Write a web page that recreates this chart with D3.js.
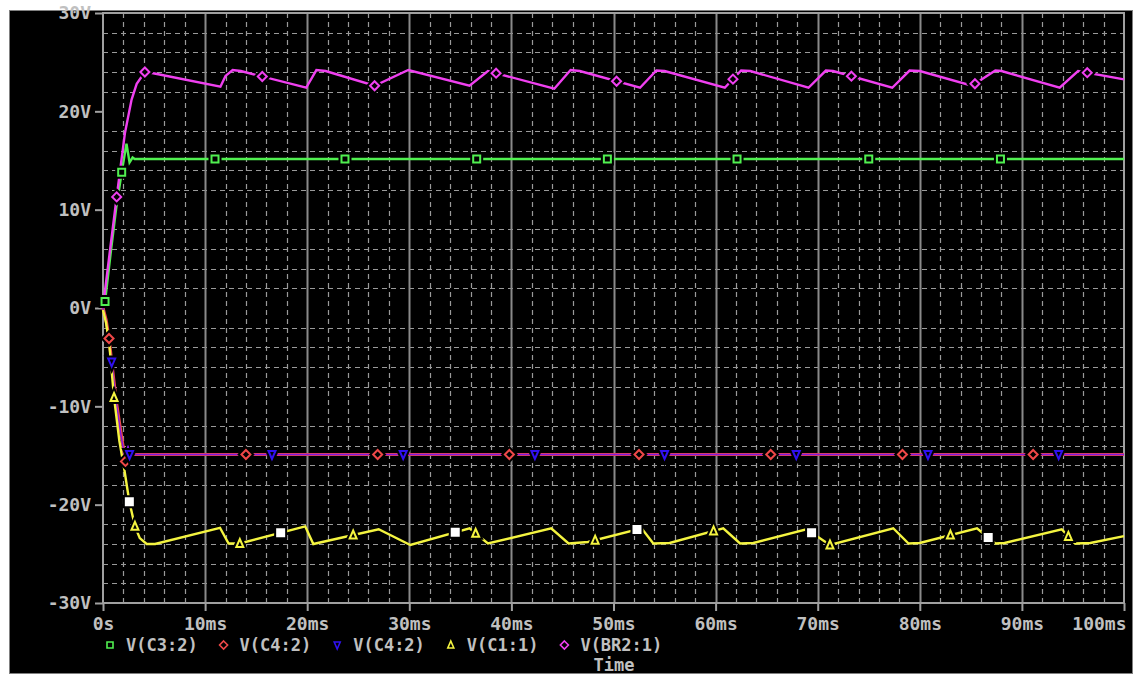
<!DOCTYPE html>
<html><head><meta charset="utf-8">
<script src="https://cdn.jsdelivr.net/npm/d3@7"></script>
<style>
html,body{margin:0;padding:0;background:#fff;}
svg{display:block;}
text{font-family:"DejaVu Sans Mono",monospace;font-weight:bold;}
</style></head>
<body><svg id="c" width="1139" height="675"></svg>
<script>
// ---- data (time in ms, value in V) ----
const xTicks = [0,10,20,30,40,50,60,70,80,90,100];
const xTickLabels = ["0s","10ms","20ms","30ms","40ms","50ms","60ms","70ms","80ms","90ms","100ms"];
const yTicks = [-30,-20,-10,0,10,20,30];
const yTickLabels = ["-30V","-20V","-10V","0V","10V","20V","30V"];
const seriesNames = ["V(C3:2)","V(C4:2)","V(C4:2)","V(C1:1)","V(BR2:1)"];
const xTitle = "Time";

const vC3 = [[0,0],[0.2,0.65],[0.8,6.0],[1.3,10.2],[1.83,13.8],[2.3,16.7],[2.6,14.8],[2.9,15.3],[3.1,15.15],[100,15.15]];
const vC4red = [[0,0],[0.3,-1.2],[0.59,-3.1],[0.85,-5.5],[1.3,-9.5],[1.8,-13],[2.2,-15.6],[2.4,-15.2],[2.6,-14.9],[100,-14.9]];
const vC4blue = [[0,0],[0.3,-1.3],[0.85,-5.5],[1.3,-9.6],[1.8,-13.2],[2.2,-15.5],[2.45,-14.0],[2.6,-14.9],[100,-14.9]];
const vC1 = [[0,-0.2],[0.3,-1.5],[0.6,-3.5],[1.08,-9.1],[1.6,-13.5],[2.1,-16.5],[2.58,-19.7],[3.13,-22.2],[3.6,-23.4],[4.28,-24.0],[5.1,-24.0],[11.46,-22.35],[12.3,-23.95],[13.4,-23.95],[19.8,-22.2],[20.6,-24.0],[27.0,-22.5],[30.1,-24.1],[35.9,-22.4],[37.7,-23.95],[43.9,-22.4],[45.6,-23.95],[47.5,-23.8],[52.75,-22.4],[53.9,-23.95],[55.5,-23.9],[60.75,-22.4],[62.4,-23.95],[63.7,-23.9],[68.9,-22.5],[71.2,-24.1],[77.4,-22.4],[78.9,-23.95],[80.0,-23.9],[85.6,-22.4],[87.4,-23.95],[88.3,-23.9],[93.9,-22.5],[95.2,-23.95],[96.7,-23.9],[100,-23.2]];
const vBR2 = [[0,0],[0.2,1.8],[0.69,5.9],[1.34,11.3],[2.15,17.8],[2.8,21.2],[3.3,22.8],[4.1,24.0],[4.8,23.9],[11.5,22.5],[12.0,23.6],[12.7,24.2],[13.5,24.1],[19.9,22.4],[20.9,24.2],[21.8,24.1],[26.6,22.6],[29.9,24.2],[35.9,22.6],[37.7,24.1],[44.2,22.3],[45.8,24.2],[46.7,24.1],[52.6,22.4],[54.2,24.15],[55.0,24.1],[60.9,22.4],[62.5,24.15],[63.4,24.1],[69.1,22.4],[70.8,24.15],[71.5,24.1],[77.3,22.4],[79.0,24.15],[80.0,24.1],[85.1,22.6],[87.4,24.15],[88.0,24.1],[93.7,22.4],[95.5,24.1],[100,23.25]];

// marker times (ms) on each trace
const mkC3 = [0.2,1.83,10.97,23.7,36.6,49.4,62.1,75.0,87.9];
const mkC4red = [0.59,2.2,14.0,26.9,39.8,52.5,65.4,78.3,91.1];
const mkC4blue = [0.85,2.6,16.55,29.4,42.3,55.0,67.9,80.8,93.6];
const mkC1 = [1.08,3.13,13.4,24.5,36.5,48.2,59.8,71.2,83.0,94.55];
const mkBR2 = [1.34,4.1,15.6,26.6,38.5,50.3,61.7,73.3,85.4,96.4];
const mkWhite = [2.58,17.4,34.5,52.3,69.4,86.7];

// ---- drawing ----
const svg = d3.select("#c");
const x = d3.scaleLinear().domain([0,100]).range([103,1124]);
const y = d3.scaleLinear().domain([-30,30]).range([603,13]);
const grey = "#c0c0c0", gridc = "#9a9a9a";

svg.append("rect").attr("x",9.5).attr("y",10.5).attr("width",1123).attr("height",663)
  .attr("fill","#000").attr("stroke","#808080");

const g = svg.append("g");
const hv = d3.range(-28,30,2).filter(v=>v%10!==0);
g.selectAll(".hg").data(hv).join("line")
  .attr("x1",x(0)).attr("x2",x(100)).attr("y1",d=>Math.round(y(d))+0.5).attr("y2",d=>Math.round(y(d))+0.5)
  .attr("stroke",gridc).attr("stroke-width",1.2).attr("stroke-dasharray","5,4");
const vv = d3.range(2,100,2).filter(v=>v%10!==0);
g.selectAll(".vg").data(vv).join("line")
  .attr("y1",y(30)).attr("y2",y(-30)).attr("x1",d=>Math.round(x(d))+0.5).attr("x2",d=>Math.round(x(d))+0.5)
  .attr("stroke",gridc).attr("stroke-width",1.2).attr("stroke-dasharray","5,4");
g.selectAll(".vm").data(d3.range(10,100,10)).join("line")
  .attr("y1",y(30)).attr("y2",y(-30)).attr("x1",d=>Math.round(x(d))+0.5).attr("x2",d=>Math.round(x(d))+0.5)
  .attr("stroke","#8a8a8a").attr("stroke-width",2);

svg.append("rect").attr("x",x(0)).attr("y",y(30)).attr("width",x(100)-x(0)).attr("height",y(-30)-y(30))
  .attr("fill","none").attr("stroke","#a0a0a0").attr("stroke-width",2);

const yAx = svg.append("g").attr("transform",`translate(${x(0)},0)`)
  .call(d3.axisLeft(y).tickValues(yTicks).tickSize(8).tickPadding(4).tickFormat((d,i)=>yTickLabels[i]));
const xAx = svg.append("g").attr("transform",`translate(0,${y(-30)})`)
  .call(d3.axisBottom(x).tickValues(xTicks).tickSize(8).tickPadding(6).tickFormat((d,i)=>xTickLabels[i]));
[yAx,xAx].forEach(a=>{
  a.select(".domain").remove();
  a.selectAll(".tick line").attr("stroke","#a0a0a0").attr("stroke-width",2);
  a.selectAll(".tick text").attr("fill",grey).attr("font-size",18).attr("font-family","DejaVu Sans Mono").attr("font-weight","bold");
});
xAx.selectAll(".tick text").filter((d)=>d===100).attr("text-anchor","end").attr("dx",2);

const line = d3.line().x(d=>x(d[0])).y(d=>y(d[1]));
const plot = svg.append("g");
const interp = (s,t)=>{ for(let i=1;i<s.length;i++){ if(t<=s[i][0]){const a=s[i-1],b=s[i];const f=(t-a[0])/(b[0]-a[0]);return a[1]+f*(b[1]-a[1]);} } return s[s.length-1][1]; };

const cGreen="#50f050", cRed="#f04848", cBlue="#3010f0", cYellow="#f4f440", cMag="#f040f0";
plot.append("path").datum(vC3).attr("d",line).attr("fill","none").attr("stroke",cGreen).attr("stroke-width",2.4);
plot.append("path").datum(vBR2).attr("d",line).attr("fill","none").attr("stroke",cMag).attr("stroke-width",2.4);
plot.append("path").datum(vC4red).attr("d",line).attr("fill","none").attr("stroke",cRed).attr("stroke-width",3.2);
plot.append("path").datum(vC4blue).attr("d",line).attr("fill","none").attr("stroke","#8018e0").attr("stroke-width",1.4);
plot.append("path").datum(vC1).attr("d",line).attr("fill","none").attr("stroke",cYellow).attr("stroke-width",2.4);

function shape(type,s){
  const h=s/2;
  if(type==="sq") return `M${-h},${-h}H${h}V${h}H${-h}Z`;
  if(type==="di") return `M0,${-h-1}L${h+1},0L0,${h+1}L${-h-1},0Z`;
  if(type==="tu") return `M0,${-h-1}L${h},${h}L${-h},${h}Z`;
  if(type==="td") return `M${-h},${-h}L${h},${-h}L0,${h+1}Z`;
}
function markers(series,times,type,color,fill){
  const pts = times.map(t=>[x(t),y(interp(series,t))]);
  const mg = plot.append("g");
  mg.selectAll("path.halo").data(pts).join("path").attr("class","halo")
    .attr("transform",d=>`translate(${d[0]},${d[1]})`).attr("d",shape(type,7))
    .attr("fill","#000").attr("stroke","#000").attr("stroke-width",6);
  mg.selectAll("path.mk").data(pts).join("path").attr("class","mk")
    .attr("transform",d=>`translate(${d[0]},${d[1]})`).attr("d",shape(type,7))
    .attr("fill",fill||"none").attr("stroke",color).attr("stroke-width",2);
}
markers(vC3,mkC3,"sq",cGreen);
markers(vC4red,mkC4red,"di",cRed);
markers(vC4blue,mkC4blue,"td",cBlue);
markers(vC1,mkC1,"tu",cYellow);
markers(vBR2,mkBR2,"di",cMag);
markers(vC1,mkWhite,"sq","#ffffff","#ffffff");

const legTypes=["sq","di","td","tu","di"], legCols=[cGreen,cRed,cBlue,cYellow,cMag];
const lg = svg.append("g");
seriesNames.forEach((n,i)=>{
  const lx = 110 + i*113.6, ly = 645;
  lg.append("path").attr("transform",`translate(${lx},${ly})`).attr("d",shape(legTypes[i],6))
    .attr("fill","none").attr("stroke",legCols[i]).attr("stroke-width",1.6);
  lg.append("text").attr("x",lx+16).attr("y",ly).attr("dy","0.36em").attr("fill",grey).attr("font-size",17).text(n);
});
svg.append("text").attr("x",614).attr("y",665).attr("dy","0.36em").attr("text-anchor","middle")
  .attr("fill",grey).attr("font-size",17).text(xTitle);
</script></body></html>
